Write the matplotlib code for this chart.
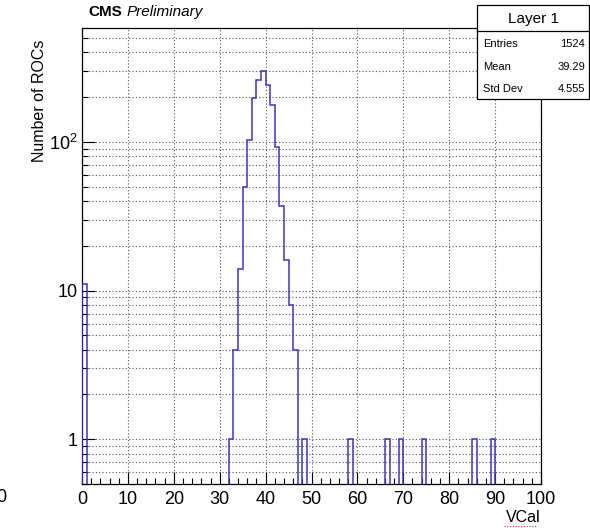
import numpy as np
import matplotlib
matplotlib.use('Agg')
import matplotlib.pyplot as plt
from matplotlib.lines import Line2D
from matplotlib.patches import Rectangle

plt.rcParams['font.family'] = ['Liberation Sans', 'DejaVu Sans']
plt.rcParams['mathtext.default'] = 'regular'

# VCal histogram, 1-unit bins from 0 to 100 (only non-empty bins listed)
bin_low = [0, 32, 33, 34, 35, 36, 37, 38, 39, 40, 41, 42, 43, 44, 45, 46,
           48, 58, 66, 69, 74, 85, 89]
counts = [11, 1, 4, 14, 50, 103, 197, 262, 300, 240, 178, 92, 37, 16, 8, 4,
          1, 1, 1, 1, 1, 1, 1]

stat_names = ['Entries', 'Mean', 'Std Dev']
stat_values = ['1524', '39.29', '4.555']

edges = np.arange(0, 101)
h = np.zeros(100)
for lo, c in zip(bin_low, counts):
    h[lo] = c

fig = plt.figure(figsize=(5.9, 5.28), dpi=100)
ax = fig.add_axes([82/590, 1-484/528, (541-82)/590, (484-28)/528])

floor = 1e-2
ax.stairs(np.where(h > 0, h, floor), edges, baseline=floor,
          color='#3c34c0', lw=1.1, zorder=3)

ax.set_yscale('log')
ax.set_xlim(0, 100)
ax.set_ylim(0.5, 583)

ax.set_xticks(np.arange(0, 101, 10))
ax.set_xticks(np.arange(0, 101, 2), minor=True)
ax.set_yticks([1, 10, 100])
ax.set_yticklabels(['1', '10', '$10^{2}$'])
ax.set_yticks([v * d for d in [0.1, 1, 10, 100] for v in range(2, 10)
               if 0.5 <= v * d <= 583], minor=True)
ax.yaxis.set_minor_formatter(plt.NullFormatter())

ax.tick_params(which='both', direction='in', top=False, right=False, width=0.8)
ax.tick_params(which='major', length=9)
ax.tick_params(which='minor', length=4.5)
ax.tick_params(axis='x', labelsize=13, pad=5)
ax.tick_params(axis='y', labelsize=13, pad=3)

grid_kw = dict(color='#555555', linestyle=(0, (1, 2)), linewidth=0.8)
ax.xaxis.grid(True, which='major', **grid_kw)
ax.yaxis.grid(True, which='both', **grid_kw)
ax.set_axisbelow(True)
for s in ax.spines.values():
    s.set_linewidth(0.9)

fig.text(40/590, 1-40/528, 'Number of ROCs', rotation=90, ha='center', va='top',
         fontsize=11.5)
fig.text(541/590, 1-518/528, 'VCal', ha='right', va='center', fontsize=11.5)
fig.add_artist(Line2D([504/590, 536/590], [1-526/528, 1-526/528], color='#e03030',
                      lw=0.8, linestyle=(0, (1, 1.5))))
fig.text(-0.006, 1-498/528, '0', ha='left', va='center', fontsize=13)

fig.text(88/590, 1-12/528, 'CMS', fontsize=11, fontweight='bold', va='center')
fig.text(127/590, 1-12/528, 'Preliminary', fontsize=11, style='italic', va='center')

# stats box
bx0, bx1 = 477/590, 589/590
by_top, by_sep, by_bot = 1-5/528, 1-31/528, 1-99/528
fig.add_artist(Rectangle((bx0, by_bot), bx1-bx0, by_top-by_bot, transform=fig.transFigure,
                         facecolor='white', edgecolor='black', lw=0.9, zorder=5))
fig.add_artist(Line2D([bx0, bx1], [by_sep, by_sep], color='black', lw=0.9, zorder=6))
fig.text((bx0+bx1)/2, 1-19/528, 'Layer 1', ha='center', va='center', fontsize=11, zorder=7)
for i, (n, v) in enumerate(zip(stat_names, stat_values)):
    y = 1 - (44 + 22.5*i)/528
    fig.text(483/590, y, n, ha='left', va='center', fontsize=8, zorder=7)
    fig.text(585/590, y, v, ha='right', va='center', fontsize=8, zorder=7)

fig.savefig('out.png', dpi=100)
